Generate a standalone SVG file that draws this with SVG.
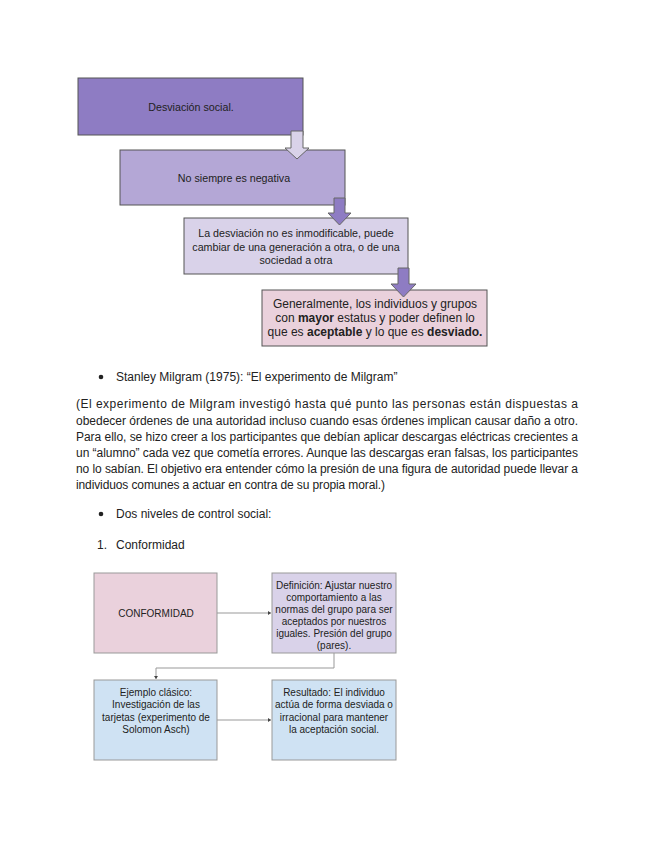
<svg xmlns="http://www.w3.org/2000/svg" width="655" height="848" viewBox="0 0 655 848">
<defs>
<style>
text{font-family:"Liberation Sans",Arial,sans-serif;fill:#222}
.t1{font-size:10.7px;text-anchor:middle}
.t2{font-size:12px;text-anchor:middle}
.t3{font-size:10px;text-anchor:middle}
.body{font-size:12px}
.b{font-weight:bold}
.box{stroke:#555;stroke-width:1}
.lbox{stroke:#999;stroke-width:1}
.arr{stroke:#666;stroke-width:1}
.conn{fill:none;stroke:#999;stroke-width:1}
</style>
<marker id="ah" markerWidth="4" markerHeight="4" refX="3" refY="2" orient="auto" markerUnits="userSpaceOnUse">
<path d="M0,0 L3,2 L0,4 Z" fill="#444"/>
</marker>
</defs>
<rect width="655" height="848" fill="#fff"/>

<g id="n1"><rect class="box" x="78" y="78" width="225" height="57" fill="#8e7cc3"/><text class="t1" x="191" y="111">Desviación social.</text></g>
<g id="n2"><rect class="box" x="120" y="150" width="225" height="55" fill="#b4a7d6"/><text class="t1" x="234" y="182">No siempre es negativa</text></g>
<g id="n3"><rect class="box" x="184" y="218" width="224" height="56" fill="#d9d2e9"/>
<text class="t1" x="296" y="237">La desviación no es inmodificable, puede</text>
<text class="t1" x="296" y="251">cambiar de una generación a otra, o de una</text>
<text class="t1" x="296" y="264">sociedad a otra</text></g>
<g id="n4"><rect class="box" x="262" y="290" width="225" height="56" fill="#ead1dc"/>
<text class="t2" x="375" y="308">Generalmente, los individuos y grupos</text>
<text class="t2" x="375" y="322">con <tspan class="b">mayor</tspan> estatus y poder definen lo</text>
<text class="t2" x="375" y="336">que es <tspan class="b">aceptable</tspan> y lo que es <tspan class="b">desviado.</tspan></text></g>

<g id="arrows">
<path class="arr" d="M291,131 H303 V148 H309 L297,159 L285,148 H291 Z" fill="#d9d2e9"/>
<path class="arr" d="M334,198 H345 V213 H351 L339.5,225 L328,213 H334 Z" fill="#8e7cc3"/>
<path class="arr" d="M398,268 H409 V284 H416 L403.5,297 L391,284 H398 Z" fill="#8e7cc3"/>
</g>

<g id="text-body">
<circle cx="101" cy="377" r="2.3" fill="#222"/>
<text class="body" x="116" y="381">Stanley Milgram (1975): “El experimento de Milgram”</text>
<text class="body" x="76" y="408" textLength="502" lengthAdjust="spacing">(El experimento de Milgram investigó hasta qué punto las personas están dispuestas a</text>
<text class="body" x="76" y="425" textLength="502" lengthAdjust="spacing">obedecer órdenes de una autoridad incluso cuando esas órdenes implican causar daño a otro.</text>
<text class="body" x="76" y="441" textLength="502" lengthAdjust="spacing">Para ello, se hizo creer a los participantes que debían aplicar descargas eléctricas crecientes a</text>
<text class="body" x="76" y="457" textLength="502" lengthAdjust="spacing">un “alumno” cada vez que cometía errores. Aunque las descargas eran falsas, los participantes</text>
<text class="body" x="76" y="473" textLength="502" lengthAdjust="spacing">no lo sabían. El objetivo era entender cómo la presión de una figura de autoridad puede llevar a</text>
<text class="body" x="76" y="489" textLength="309" lengthAdjust="spacing">individuos comunes a actuar en contra de su propia moral.)</text>
<circle cx="101" cy="514" r="2.3" fill="#222"/>
<text class="body" x="116" y="518">Dos niveles de control social:</text>
<text class="body" x="97" y="549">1.</text>
<text class="body" x="116" y="549">Conformidad</text>
</g>

<g id="connectors">
<path class="conn" d="M217,613 H271" marker-end="url(#ah)"/>
<path class="conn" d="M334,653 V668 H156 V679" marker-end="url(#ah)"/>
<path class="conn" d="M217,720 H271" marker-end="url(#ah)"/>
</g>

<g id="c1"><rect class="lbox" x="94" y="573" width="123" height="80" fill="#ead1dc"/><text class="t3" x="156" y="617">CONFORMIDAD</text></g>
<g id="c2"><rect class="lbox" x="272" y="573" width="124" height="80" fill="#d9d2e9"/>
<text class="t3" x="334" y="589">Definición: Ajustar nuestro</text>
<text class="t3" x="334" y="601">comportamiento a las</text>
<text class="t3" x="334" y="613">normas del grupo para ser</text>
<text class="t3" x="334" y="625">aceptados por nuestros</text>
<text class="t3" x="334" y="637">iguales. Presión del grupo</text>
<text class="t3" x="334" y="649">(pares).</text></g>
<g id="c3"><rect class="lbox" x="94" y="680" width="123" height="80" fill="#cfe2f3"/>
<text class="t3" x="156" y="696">Ejemplo clásico:</text>
<text class="t3" x="156" y="708">Investigación de las</text>
<text class="t3" x="156" y="721">tarjetas (experimento de</text>
<text class="t3" x="156" y="733">Solomon Asch)</text></g>
<g id="c4"><rect class="lbox" x="272" y="680" width="124" height="80" fill="#cfe2f3"/>
<text class="t3" x="334" y="696">Resultado: El individuo</text>
<text class="t3" x="334" y="708">actúa de forma desviada o</text>
<text class="t3" x="334" y="721">irracional para mantener</text>
<text class="t3" x="334" y="733">la aceptación social.</text></g>
</svg>
